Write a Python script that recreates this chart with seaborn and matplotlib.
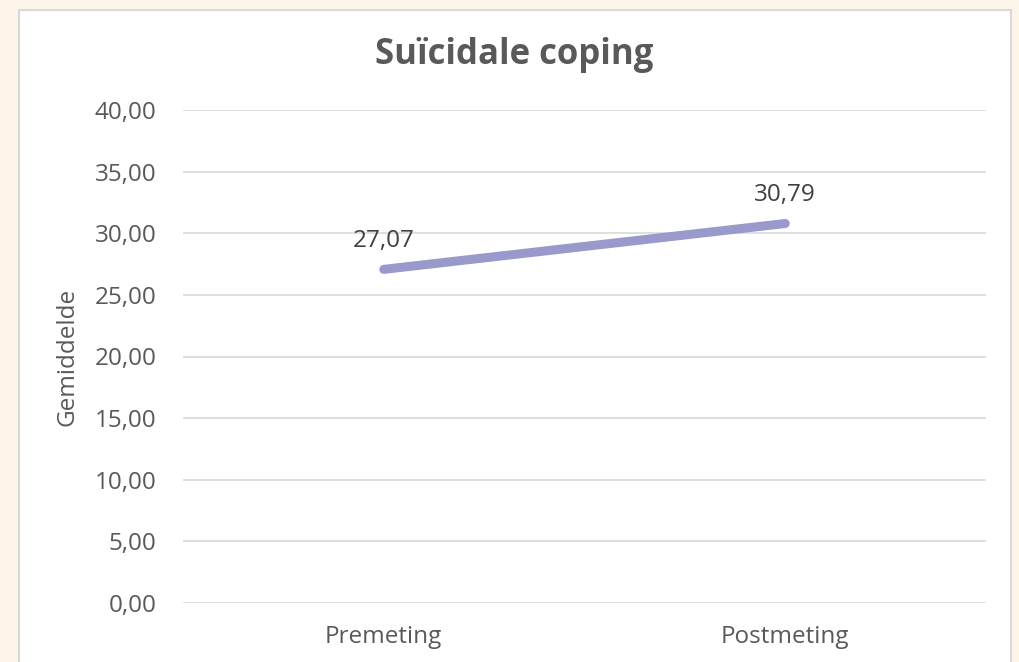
import matplotlib
matplotlib.use("Agg")
import matplotlib.pyplot as plt
import seaborn as sns
import pandas as pd
from matplotlib.patches import Rectangle

# data
metingen = ["Premeting", "Postmeting"]
gemiddelde = [27.07, 30.79]
y_ticks = [0, 5, 10, 15, 20, 25, 30, 35, 40]

df = pd.DataFrame({"meting": metingen, "gemiddelde": gemiddelde})

sns.set_style("white")
plt.rcParams["font.family"] = ["Open Sans", "DejaVu Sans"]

fig = plt.figure(figsize=(10.2, 6.62), dpi=100, facecolor="#FDF5E9")
# white chart panel with light border
fig.patches.append(Rectangle((19 / 1020, -0.01), (1011 - 19) / 1020, 1 - 10 / 662 + 0.01,
                             transform=fig.transFigure, facecolor="white",
                             edgecolor="#D9D9D9", linewidth=1.5, zorder=-10))

ax = fig.add_axes([183 / 1020, 1 - 603 / 662, (986 - 183) / 1020, (603 - 110) / 662])
ax.set_facecolor("none")

sns.lineplot(data=df, x="meting", y="gemiddelde", ax=ax, color="#9999CC",
             linewidth=6.5, solid_capstyle="round", sort=False)

ax.set_xlim(-0.5, 1.5)
ax.set_ylim(0, 40)
ax.set_yticks(y_ticks)
ax.set_yticklabels([f"{v:.2f}".replace(".", ",") for v in y_ticks])
ax.yaxis.grid(True, color="#D9D9D9", linewidth=1.2)
ax.set_axisbelow(True)
for s in ax.spines.values():
    s.set_visible(False)
ax.tick_params(axis="both", length=0, labelsize=17.5, labelcolor="#595959")
ax.tick_params(axis="y", pad=19)
ax.tick_params(axis="x", pad=16)
ax.set_xlabel("")
ax.set_ylabel("Gemiddelde", fontsize=17.5, color="#595959", labelpad=11)

for i, v in enumerate(gemiddelde):
    ax.annotate(f"{v:.2f}".replace(".", ","), (i, v), xytext=(0, 12),
                textcoords="offset points", ha="center", va="bottom",
                fontsize=17.5, color="#404040")

fig.text(514 / 1020, 1 - 55 / 662, "Suïcidale coping", ha="center", va="center",
         fontsize=25, fontweight="bold", color="#595959")

fig.savefig("out.png", dpi=100, facecolor=fig.get_facecolor())
